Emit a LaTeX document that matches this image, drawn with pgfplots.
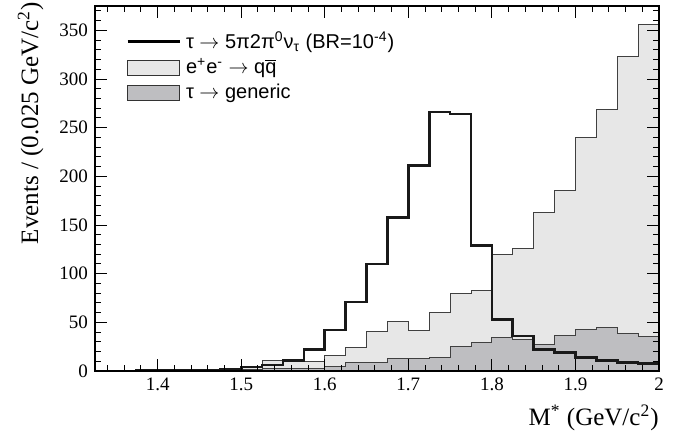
\documentclass[border=0pt]{standalone}
\usepackage{fontspec}
\setmainfont{Liberation Serif}
\newfontfamily\lsans{Liberation Sans}
\usepackage{pgfplots}
\usepackage{pgfplotstable}
\pgfplotsset{compat=1.18}
\usetikzlibrary{calc}
\definecolor{lgray}{RGB}{231,231,231}
\definecolor{dgray}{RGB}{190,190,193}
\pgfplotsset{
  sig legend/.style={legend image code/.code={\draw[##1] (0pt,0pt) -- (26pt,0pt);}},
  box legend/.style={legend image code/.code={\draw[##1] (0pt,-3.75pt) rectangle (26pt,3.75pt);}},
}
\pgfplotstableread{
x y
1.325 0
1.350 0
1.375 0.5
1.400 0.5
1.425 0.5
1.450 1
1.475 1.5
1.500 4
1.525 6
1.550 11
1.575 22
1.600 42
1.625 71
1.650 110
1.675 158
1.700 211
1.725 266
1.750 264
1.775 129
1.800 53
1.825 36
1.850 22
1.875 19
1.900 14
1.925 11
1.950 9
1.975 8
2.000 8
}\sigtab
\pgfplotstableread{
x y
1.325 0
1.350 0
1.375 0.5
1.400 1
1.425 1
1.450 1
1.475 3
1.500 4.5
1.525 11
1.550 10
1.575 10
1.600 16
1.625 24.5
1.650 41
1.675 50.5
1.700 42
1.725 60.5
1.750 80
1.775 83
1.800 120
1.825 126
1.850 163
1.875 185
1.900 240
1.925 269
1.950 323
1.975 356
2.000 356
}\qqtab
\pgfplotstableread{
x y
1.325 0
1.350 0
1.375 0.5
1.400 2
1.425 2
1.450 1.5
1.475 1
1.500 2
1.525 2.5
1.550 3
1.575 3
1.600 4.5
1.625 9
1.650 9
1.675 12.5
1.700 12.5
1.725 14
1.750 25
1.775 29
1.800 34.6
1.825 32.5
1.850 27
1.875 36.6
1.900 42.8
1.925 45
1.950 39
1.975 35
2.000 35
}\gentab
\begin{document}
\begin{tikzpicture}
\begin{axis}[
  scale only axis,
  width=282pt, height=182.5pt,
  xmin=1.325, xmax=2.0,
  ymin=0, ymax=375,
  axis on top,
  axis line style={line width=0.6pt},
  tick align=inside,
  xtick pos=both, ytick pos=both,
  xticklabel pos=left, yticklabel pos=left,
  xtick={1.4,1.5,1.6,1.7,1.8,1.9,2.0},
  xticklabels={1.4,1.5,1.6,1.7,1.8,1.9,2},
  minor xtick={1.34,1.36,1.38,1.42,1.44,1.46,1.48,1.52,1.54,1.56,1.58,1.62,1.64,1.66,1.68,1.72,1.74,1.76,1.78,1.82,1.84,1.86,1.88,1.92,1.94,1.96,1.98},
  ytick={0,50,100,150,200,250,300,350},
  yticklabels={0,50,100,150,200,250,300,350},
  minor ytick={10,20,30,40,60,70,80,90,110,120,130,140,160,170,180,190,210,220,230,240,260,270,280,290,310,320,330,340,360,370},
  major tick length=6pt, minor tick length=3pt,
  every tick/.style={black, line width=0.5pt},
  /pgf/number format/assume math mode=true,
  ticklabel style={font=\rmfamily\fontsize{9.5}{11}\selectfont},
  xlabel={M\textsuperscript{*} (GeV/c\textsuperscript{2})},
  ylabel={Events / (0.025 GeV/c\textsuperscript{2})},
  label style={font=\rmfamily\fontsize{12.5}{14}\selectfont},
  xlabel style={at={(axis description cs:1,-0.148)}, anchor=base east, inner sep=0pt},
  ylabel style={at={(axis description cs:-0.101,1.011)}, anchor=base east, inner sep=0pt},
  legend style={at={(axis description cs:0.055,0.937)}, anchor=north west, draw=none, fill=none,
    font=\lsans\fontsize{10}{12}\selectfont, row sep=1.5pt, column sep=1.5pt, inner sep=0pt,
    nodes={inner sep=1pt}},
  legend cell align=left,
]
\addlegendimage{sig legend, black, line width=1.3pt}
\addlegendentry{τ $\rightarrow$ 5π2π\textsuperscript{0}ν\textsubscript{τ} (BR=10\textsuperscript{-4})}
\addlegendimage{box legend, fill=lgray, draw=black!80, line width=0.5pt}
\addlegendentry{e\textsuperscript{+}e\textsuperscript{-} $\rightarrow$ q$\overline{\mbox{q}}$}
\addlegendimage{box legend, fill=dgray, draw=black!80, line width=0.5pt}
\addlegendentry{τ $\rightarrow$ generic}
\addplot[const plot, fill=lgray, draw=black!75, line width=0.5pt, forget plot] table[x=x,y=y] {\qqtab} \closedcycle;
\addplot[const plot, fill=dgray, draw=black!75, line width=0.5pt, forget plot] table[x=x,y=y] {\gentab} \closedcycle;
\addplot[const plot, black!90, line width=1.3pt, line join=miter, forget plot] table[x=x,y=y] {\sigtab};
\end{axis}
\pgfresetboundingbox
\path ($(current axis.south west)+(-47.5pt,-32pt)$) rectangle ($(current axis.north east)+(12pt,3pt)$);
\end{tikzpicture}
\end{document}
